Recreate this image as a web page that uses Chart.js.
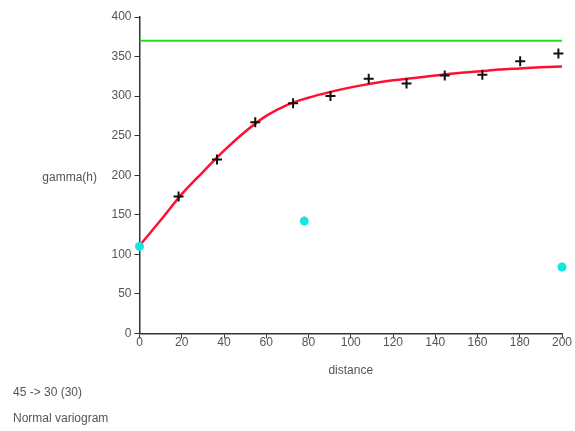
<!DOCTYPE html>
<html>
<head>
<meta charset="utf-8">
<title>Variogram</title>
<script src="https://cdn.jsdelivr.net/npm/chart.js@4.4.1/dist/chart.umd.min.js"></script>
<style>
  html, body { margin: 0; padding: 0; background: #fff; }
  #wrap { width: 575px; height: 431px; }
</style>
</head>
<body>
<div id="wrap"><canvas id="variogramChart"></canvas></div>
<script>
// experimental variogram (lag distance / semivariance)
var lagDistance = [18.5, 36.7, 54.8, 72.7, 90.4, 108.5, 126.4, 144.5, 162.3, 180.2, 198.3];
var lagGamma = [173, 220, 267, 291, 300, 322, 316, 326, 327, 344, 354];

// fitted model curve
var modelDistance = [0, 10, 20, 30, 40, 50, 60, 70, 80, 90, 100, 110, 120, 130, 140, 150, 160, 170, 180, 190, 200];
var modelGamma = [111, 143, 176, 204, 231, 255, 275, 289, 298, 305, 311, 316, 320, 323, 326, 329, 331, 333.5, 335, 336.5, 337.5];

// sill
var sillDistance = [0, 200];
var sillGamma = [370, 370];

// cyan points
var extraDistance = [0, 78, 200];
var extraGamma = [110, 142, 84];

var xTicks = [0, 20, 40, 60, 80, 100, 120, 140, 160, 180, 200];
var yTicks = [0, 50, 100, 150, 200, 250, 300, 350, 400];

function pairs(xs, ys) {
    return xs.map(function (x, i) { return { x: x, y: ys[i] }; });
}

var textColor = '#555';
var axisColor = '#333';
Chart.defaults.font.family = '"Liberation Sans", Arial, sans-serif';
Chart.defaults.font.size = 12;
Chart.defaults.color = textColor;

// horizontal y axis title, left of the tick labels
var yTitlePlugin = {
    id: 'yTitle',
    afterDraw: function (chart) {
        var ctx = chart.ctx;
        var area = chart.chartArea;
        ctx.save();
        ctx.fillStyle = textColor;
        ctx.font = '12px "Liberation Sans", Arial, sans-serif';
        ctx.textAlign = 'right';
        ctx.textBaseline = 'middle';
        ctx.fillText('gamma(h)', 97, (area.top + area.bottom) / 2 + 2);
        ctx.restore();
    }
};

var ctx = document.getElementById('variogramChart').getContext('2d');
var variogramChart = new Chart(ctx, {
    type: 'scatter',
    data: {
        datasets: [{
            label: 'sill',
            data: pairs(sillDistance, sillGamma),
            showLine: true,
            borderColor: '#1fe01f',
            borderWidth: 2,
            pointRadius: 0,
            order: 4
        }, {
            label: 'model',
            data: pairs(modelDistance, modelGamma),
            showLine: true,
            borderColor: '#ff1030',
            borderWidth: 2.5,
            pointRadius: 0,
            cubicInterpolationMode: 'monotone',
            order: 3
        }, {
            label: 'gamma',
            data: pairs(lagDistance, lagGamma),
            pointStyle: 'cross',
            pointRadius: 5,
            borderColor: '#111',
            backgroundColor: '#111',
            borderWidth: 2,
            clip: false,
            order: 2
        }, {
            label: 'extra',
            data: pairs(extraDistance, extraGamma),
            pointStyle: 'circle',
            pointRadius: 4.5,
            borderWidth: 0,
            backgroundColor: '#12e6e0',
            clip: false,
            order: 1
        }]
    },
    options: {
        responsive: true,
        maintainAspectRatio: false,
        animation: false,
        layout: {
            padding: { top: 17, right: 13, left: 13, bottom: 1 }
        },
        plugins: {
            legend: { display: false },
            tooltip: { enabled: false },
            subtitle: {
                display: true,
                text: '45 -> 30 (30)',
                position: 'bottom',
                align: 'start',
                color: textColor,
                font: { size: 12 },
                padding: { top: 7, bottom: 6 }
            },
            title: {
                display: true,
                text: 'Normal variogram',
                position: 'bottom',
                align: 'start',
                color: textColor,
                font: { size: 12, weight: 'normal' },
                padding: { top: 6, bottom: 4 }
            }
        },
        scales: {
            x: {
                type: 'linear',
                min: 0,
                max: 200,
                afterBuildTicks: function (scale) {
                    scale.ticks = xTicks.map(function (v) { return { value: v }; });
                },
                grid: {
                    drawOnChartArea: false,
                    drawTicks: true,
                    tickLength: 5,
                    tickColor: axisColor,
                    tickWidth: 1
                },
                border: { color: axisColor, width: 1.5 },
                ticks: { color: textColor, padding: -3, maxRotation: 0 },
                title: {
                    display: true,
                    text: 'distance',
                    color: textColor,
                    font: { size: 12 },
                    padding: { top: 17, bottom: 0 }
                }
            },
            y: {
                type: 'linear',
                min: 0,
                max: 400,
                afterBuildTicks: function (scale) {
                    scale.ticks = yTicks.map(function (v) { return { value: v }; });
                },
                afterFit: function (scale) {
                    scale.width = 126.5;
                },
                grid: {
                    drawOnChartArea: false,
                    drawTicks: true,
                    tickLength: 5,
                    tickColor: axisColor,
                    tickWidth: 1
                },
                border: { color: axisColor, width: 1.5 },
                ticks: { color: textColor, padding: 3 }
            }
        }
    },
    plugins: [yTitlePlugin]
});
</script>
</body>
</html>
